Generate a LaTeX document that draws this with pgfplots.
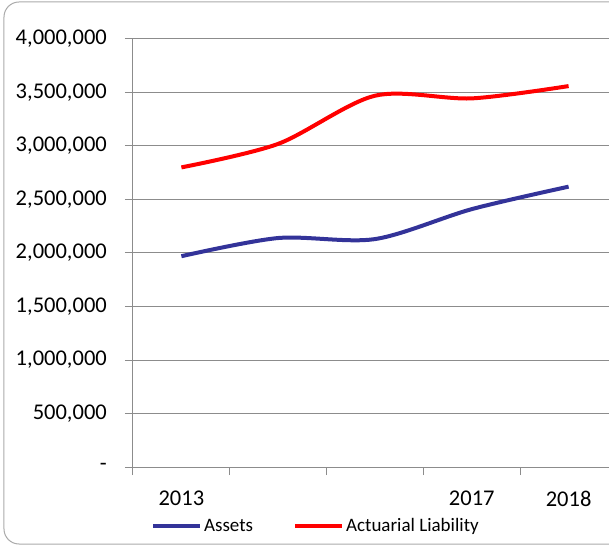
\documentclass[border=0pt]{standalone}
\usepackage{pgfplots}
\pgfplotsset{compat=1.18}
\usepackage{fontspec}
\setmainfont{Carlito}
\definecolor{assetblue}{RGB}{51,51,153}
\definecolor{gridgray}{RGB}{140,140,140}
\definecolor{framegray}{RGB}{170,170,170}
\begin{document}
\begin{tikzpicture}
\begin{axis}[
  at={(0,0)}, anchor=south west,
  scale only axis, width=484bp, height=428bp,
  xmin=-0.5, xmax=4.5, ymin=0, ymax=4000000,
  scaled y ticks=false,
  axis x line*=bottom, axis y line*=left,
  axis line style={draw=gridgray, line width=1bp, -},
  tick align=outside,
  major tick length=8bp,
  tick style={draw=gridgray, line width=1bp},
  xtick={-0.5,0.5,1.5,2.5,3.5},
  xticklabels={},
  extra x ticks={0,3,4},
  extra x tick labels={2013,2017,2018},
  extra x tick style={major tick length=0pt, grid=none},
  xticklabel style={font=\fontsize{22.5bp}{27bp}\selectfont, inner sep=0pt, anchor=north, yshift=-24bp},
  ytick={0,500000,1000000,1500000,2000000,2500000,3000000,3500000,4000000},
  yticklabels={{-},{500,000},{1,000,000},{1,500,000},{2,000,000},{2,500,000},{3,000,000},{3,500,000},{4,000,000}},
  yticklabel style={font=\fontsize{22.5bp}{27bp}\selectfont, inner sep=0pt, anchor=east, xshift=-18bp},
  ymajorgrids,
  grid style={draw=gridgray, line width=1bp},
  clip=false,
  legend columns=2,
  legend style={draw=none, fill=none, at={(0.378,-0.138)}, anchor=center,
    font=\fontsize{19bp}{22bp}\selectfont,
    /tikz/every even column/.append style={column sep=38bp}},
  legend image code/.code={\draw[#1] (0bp,0bp) -- (47bp,0bp);},
]
\addplot[assetblue, line width=4bp, smooth, tension=0.5] coordinates {
  (0,1970000) (1,2140000) (2,2130000) (3,2410000) (4,2620000)};
\addlegendentry{Assets}
\addplot[red, line width=4bp, smooth, tension=0.5] coordinates {
  (0,2800000) (1,3020000) (2,3470000) (3,3445000) (4,3560000)};
\addlegendentry{Actuarial Liability}
\end{axis}
\draw[framegray, line width=1bp, rounded corners=15bp] (-129bp,-77bp) rectangle (520bp,465bp);
\pgfresetboundingbox
\useasboundingbox (-133bp,-79bp) rectangle (476bp,467bp);
\end{tikzpicture}
\end{document}
